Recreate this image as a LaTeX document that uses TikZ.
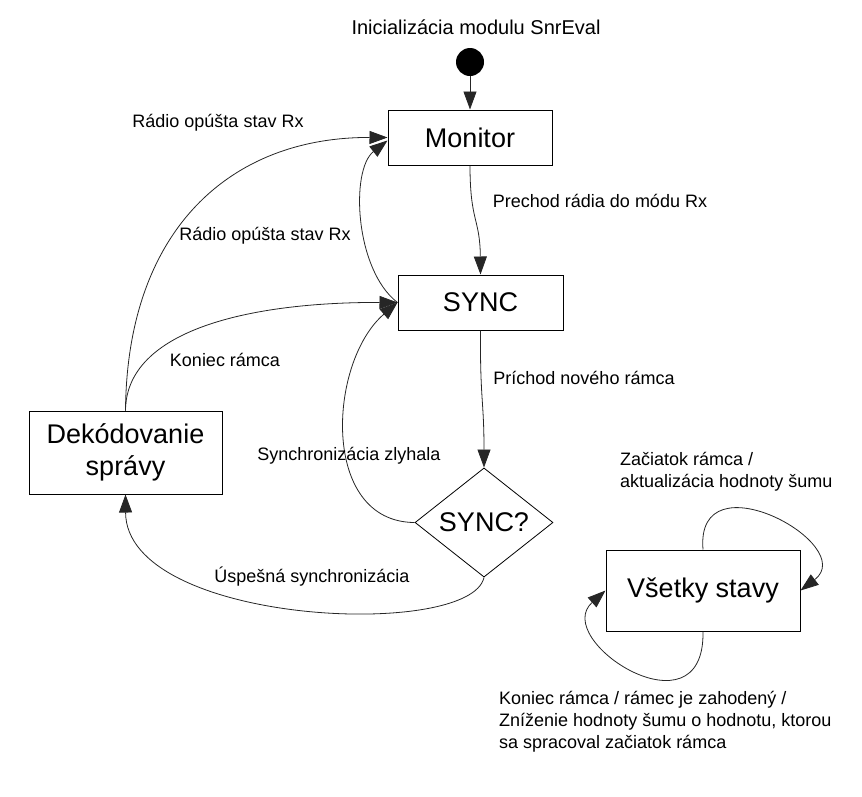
\documentclass[tikz,border=0pt]{standalone}
\usepackage{fontspec}
\setmainfont{Liberation Sans}
\usetikzlibrary{arrows.meta, positioning, shapes.geometric}
\tikzset{
	state/.style={rectangle, draw=black, line width=1pt, align=center, minimum width=164pt, minimum height=55pt, inner sep=0pt, font=\fontsize{27}{32}\selectfont},
	decision/.style={diamond, draw=black, line width=0.8pt, align=center, minimum width=138pt, minimum height=109pt, inner sep=0pt, font=\fontsize{27}{32}\selectfont},
	initial/.style={circle, fill=black, minimum size=28pt, inner sep=0pt},
	lbl/.style={align=left, inner sep=0pt, font=\fontsize{18}{22}\selectfont},
	arrow/.style={-{Triangle[length=18pt, width=13pt]}, line width=0.8pt, draw=black!85},
}
\begin{document}
\begin{tikzpicture}[x=1pt, y=-1pt]
		\useasboundingbox (0,0) rectangle (862,796);
		% states
		\node[initial] (start) at (470,62) {};
		\node[lbl, font=\fontsize{20}{24}\selectfont] (title) at (476,27) {Inicializácia modulu SnrEval};
		\node[state] (monitor) at (470,137.5) {Monitor};
		\node[state, minimum width=165pt] (sync) at (480.5,302.5) {SYNC};
		\node[decision] (check) at (484,522.5) {SYNC?};
		\node[state, minimum width=193pt, minimum height=83pt] (decode) at (125.5,452.5) {Dekódovanie\\správy};
		\node[state, minimum width=194pt, minimum height=81pt] (all) at (703,590.5) {Všetky stavy};
		% transitions
		\draw[arrow] (start) -- (monitor.north);
		\draw[arrow] (monitor.south) .. controls (470,222) and (480,218) .. (sync.north);
		\draw[arrow] (sync.south) .. controls (480,400) and (484,400) .. (check.north);
		\draw[arrow] (check.west) .. controls (320,522) and (328,362) .. (sync.west);
		\draw[arrow] (check.south) .. controls (470,640) and (126,625) .. (decode.south);
		\draw[arrow] (decode.north) .. controls (127,230) and (230,137) .. (monitor.west);
		\draw[arrow] (decode.north) .. controls (126,330) and (250,302) .. (sync.west);
		\draw[arrow] (sync.west) .. controls (355,270) and (350,170) .. ([yshift=-3pt]monitor.west);
		\draw[arrow] (all.north) .. controls (695,455) and (860,545) .. (all.east);
		\draw[arrow] (all.south) .. controls (705,740) and (550,640) .. (all.west);
		% labels
		\node[lbl] (l1) at (218,123) {Rádio opúšta stav Rx};
		\node[lbl] (l2) at (265,236) {Rádio opúšta stav Rx};
		\node[lbl] (l3) at (600,201) {Prechod rádia do módu Rx};
		\node[lbl] (l4) at (584,378) {Príchod nového rámca};
		\node[lbl] (l5) at (225,360) {Koniec rámca};
		\node[lbl] (l6) at (349,456) {Synchronizácia zlyhala};
		\node[lbl] (l7) at (312,577) {Úspešná synchronizácia};
		\node[lbl, anchor=west] (l8) at (620,472) {Začiatok rámca /\\aktualizácia hodnoty šumu};
		\node[lbl, anchor=west] (l9) at (499,722) {Koniec rámca / rámec je zahodený /\\Zníženie hodnoty šumu o hodnotu, ktorou\\sa spracoval začiatok rámca};
	\end{tikzpicture}
\end{document}
